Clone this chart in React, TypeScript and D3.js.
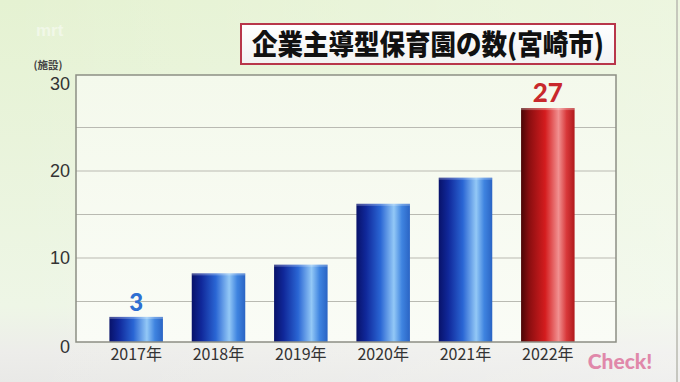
import React from "react";
import * as d3 from "d3";

const years = ["2017年", "2018年", "2019年", "2020年", "2021年", "2022年"];
const counts = [3, 8, 9, 16, 19, 27];
const yTicks = [0, 10, 20, 30];
const gridValues = [5, 10, 15, 20, 25];
const labeled = [0, 5]; // indices with value labels
const title = "企業主導型保育園の数(宮崎市)";
const unit = "(施設)";

const W = 680;
const H = 382;

export default function App() {
  const x = d3
    .scaleBand<string>()
    .domain(years)
    .range([95, 589])
    .paddingInner(0.35)
    .paddingOuter(0.175);
  const y = d3.scaleLinear().domain([0, 30]).range([345, 84]);

  const frame = { x0: 76, x1: 616, y0: 75, y1: 342 };
  const font = "'Noto Sans CJK JP', 'Noto Sans', sans-serif";
  const numFont = "'Liberation Sans', Arial, sans-serif";

  return (
    <svg
      width={W}
      height={H}
      viewBox={`0 0 ${W} ${H}`}
      style={{ position: "fixed", left: 0, top: 0, display: "block" }}
    >
      <defs>
        <linearGradient id="bg" x1="0" y1="0" x2="0" y2="1">
          <stop offset="0" stopColor="#e5f2d2" />
          <stop offset="0.8" stopColor="#eef6e6" />
          <stop offset="0.92" stopColor="#ededea" />
          <stop offset="1" stopColor="#e9e9e7" />
        </linearGradient>
        <linearGradient id="bgH" x1="0" y1="0" x2="1" y2="0">
          <stop offset="0" stopColor="#ffffff" stopOpacity="0" />
          <stop offset="1" stopColor="#ffffff" stopOpacity="0.3" />
        </linearGradient>
        <linearGradient id="plot" x1="0" y1="0" x2="0" y2="1">
          <stop offset="0" stopColor="#f4f9ec" />
          <stop offset="1" stopColor="#fafcf6" />
        </linearGradient>
        <linearGradient id="blue" x1="0" y1="0" x2="1" y2="0">
          <stop offset="0" stopColor="#08126a" />
          <stop offset="0.18" stopColor="#10289a" />
          <stop offset="0.45" stopColor="#2a66d4" />
          <stop offset="0.7" stopColor="#93c8f6" />
          <stop offset="0.85" stopColor="#3f84e0" />
          <stop offset="1" stopColor="#2a64c4" />
        </linearGradient>
        <linearGradient id="red" x1="0" y1="0" x2="1" y2="0">
          <stop offset="0" stopColor="#4a0606" />
          <stop offset="0.15" stopColor="#8a0e10" />
          <stop offset="0.45" stopColor="#d41c1e" />
          <stop offset="0.7" stopColor="#f19090" />
          <stop offset="0.85" stopColor="#d8383a" />
          <stop offset="1" stopColor="#b01a1c" />
        </linearGradient>
        <linearGradient id="titleFill" x1="0" y1="0" x2="0" y2="1">
          <stop offset="0" stopColor="#ffffff" />
          <stop offset="1" stopColor="#f2f2f2" />
        </linearGradient>
      </defs>

      <rect x={0} y={0} width={W} height={H} fill="url(#bg)" />
      <rect x={0} y={0} width={W} height={H} fill="url(#bgH)" />
      <line x1={677} y1={0} x2={677} y2={H} stroke="#b8b8b0" strokeWidth={1.5} />

      {/* watermark logo */}
      <text
        x={36}
        y={36}
        fontFamily={numFont}
        fontWeight="bold"
        fontSize={17}
        fill="#ffffff"
        opacity={0.45}
      >
        mrt
      </text>

      {/* Title box */}
      <rect
        x={241}
        y={24}
        width={374}
        height={40}
        fill="url(#titleFill)"
        stroke="#b8364a"
        strokeWidth={2}
      />
      <text
        x={428}
        y={55}
        textAnchor="middle"
        fontFamily={font}
        fontWeight={900}
        fontSize={28}
        fill="#111"
        textLength={352}
        lengthAdjust="spacingAndGlyphs"
      >
        {title}
      </text>

      {/* plot area */}
      <rect
        x={frame.x0}
        y={frame.y0}
        width={frame.x1 - frame.x0}
        height={frame.y1 - frame.y0}
        fill="url(#plot)"
      />
      {gridValues.map((v) => (
        <line
          key={v}
          x1={frame.x0}
          x2={frame.x1}
          y1={y(v)}
          y2={y(v)}
          stroke="#b9bab2"
          strokeWidth={1.2}
        />
      ))}

      {/* bars */}
      {years.map((yr, i) => {
        const bx = x(yr)!;
        const bw = x.bandwidth();
        const top = y(counts[i]) - 2;
        const isLast = i === years.length - 1;
        return (
          <g key={yr}>
            <rect
              x={bx}
              y={top}
              width={bw}
              height={frame.y1 - top}
              fill={isLast ? "url(#red)" : "url(#blue)"}
            />
            <rect
              x={bx}
              y={top}
              width={bw}
              height={2}
              fill="#ffffff"
              opacity={0.25}
            />
          </g>
        );
      })}

      <rect
        x={frame.x0}
        y={frame.y0}
        width={frame.x1 - frame.x0}
        height={frame.y1 - frame.y0}
        fill="none"
        stroke="#8c8e84"
        strokeWidth={1.5}
      />

      {/* y ticks */}
      {yTicks.map((t) => (
        <text
          key={t}
          x={70}
          y={y(t) + (t === 0 ? 2 : 0)}
          dy="0.36em"
          textAnchor="end"
          fontFamily={numFont}
          fontSize={18}
          fill="#333"
        >
          {t}
        </text>
      ))}
      <text
        x={48}
        y={69}
        textAnchor="middle"
        fontFamily={font}
        fontWeight="bold"
        fontSize={10.5}
        fill="#444"
      >
        {unit}
      </text>

      {/* value labels */}
      {labeled.map((i) => {
        const isLast = i === years.length - 1;
        return (
          <text
            key={i}
            x={x(years[i])! + x.bandwidth() / 2}
            y={y(counts[i]) - 8}
            textAnchor="middle"
            fontFamily={"'Lato', 'Open Sans', sans-serif"}
            fontWeight={900}
            fontSize={isLast ? 26 : 24}
            fill={isLast ? "#c8282c" : "#2e6fd2"}
          >
            {counts[i]}
          </text>
        );
      })}

      {/* x labels */}
      {years.map((yr) => (
        <text
          key={yr}
          x={x(yr)! + x.bandwidth() / 2}
          y={360}
          textAnchor="middle"
          fontFamily={font}
          fontSize={16}
          fill="#333"
        >
          {yr}
        </text>
      ))}

      {/* Check! */}
      <text
        x={620}
        y={369}
        textAnchor="middle"
        fontFamily={"'Lato', 'Open Sans', sans-serif"}
        fontWeight={900}
        fontSize={21}
        fill="#e088aa"
      >
        Check!
      </text>
    </svg>
  );
}
